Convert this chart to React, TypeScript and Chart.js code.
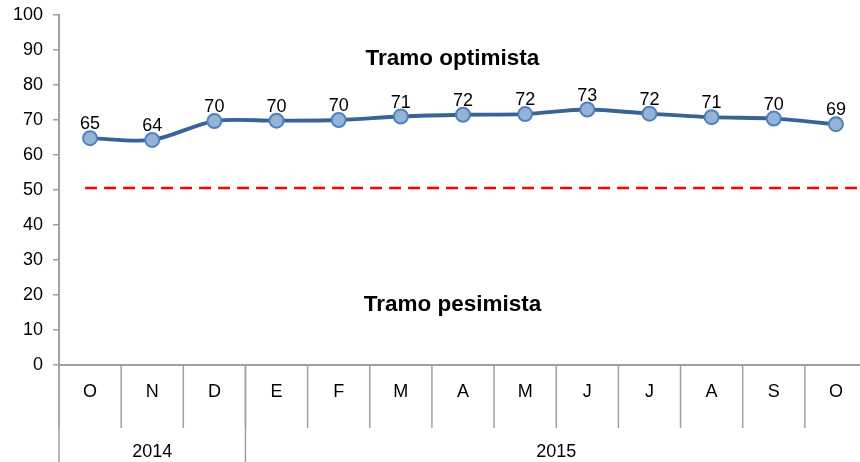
import { useEffect, useRef } from 'react';
import { Chart, registerables } from 'chart.js';

Chart.register(...registerables);

const months = ['O', 'N', 'D', 'E', 'F', 'M', 'A', 'M', 'J', 'J', 'A', 'S', 'O'];
const years = ['2014', '2015'];
const yearSpans = [3, 10];
const values = [64.8, 64.3, 69.7, 69.8, 70.0, 71.0, 71.5, 71.7, 73.0, 71.8, 70.8, 70.4, 68.8];
const threshold = 50.6;
const yMin = 0;
const yMax = 100;
const yStep = 10;
const optimistText = 'Tramo optimista';
const pessimistText = 'Tramo pesimista';

const FONT = '"Liberation Sans", Arial, Helvetica, sans-serif';
const AXIS = '#A0A0A0';
const FS = 18;

export default function App() {
  const ref = useRef<HTMLCanvasElement>(null);

  useEffect(() => {
    if (!ref.current) return;

    const overlay = {
      id: 'overlay',
      beforeDatasetsDraw(chart: any) {
        const { ctx, chartArea, scales } = chart;
        const x = scales.x;
        const y = scales.y;
        const yy = y.getPixelForValue(threshold);
        ctx.save();
        ctx.strokeStyle = '#FF0000';
        ctx.lineWidth = 2.5;
        ctx.setLineDash([12, 7]);
        ctx.beginPath();
        ctx.moveTo(x.getPixelForValue(0) - 5, yy);
        ctx.lineTo(chartArea.right, yy);
        ctx.stroke();
        ctx.restore();
      },
      afterDatasetsDraw(chart: any) {
        const { ctx, chartArea, scales } = chart;
        const x = scales.x;
        const y = scales.y;
        ctx.save();
        // value labels
        const meta = chart.getDatasetMeta(0);
        ctx.fillStyle = '#000';
        ctx.font = `${FS}px ${FONT}`;
        ctx.textAlign = 'center';
        ctx.textBaseline = 'alphabetic';
        meta.data.forEach((pt: any, i: number) => {
          ctx.fillText(String(Math.round(values[i])), pt.x, pt.y - 9);
        });
        // zone annotations
        ctx.font = `bold 22.5px ${FONT}`;
        ctx.textBaseline = 'middle';
        ctx.fillText(optimistText, x.getPixelForValue(5.83), y.getPixelForValue(87.5));
        ctx.fillText(pessimistText, x.getPixelForValue(5.83), y.getPixelForValue(17.1));

        // month separators
        const bottom = chartArea.bottom;
        ctx.strokeStyle = AXIS;
        ctx.lineWidth = 1.5;
        for (let i = 0; i <= months.length; i++) {
          const bx = x.getPixelForValue(i - 0.5);
          ctx.beginPath();
          ctx.moveTo(bx, bottom);
          ctx.lineTo(bx, bottom + 63);
          ctx.stroke();
        }
        // year separators and labels
        let start = 0;
        ctx.font = `${FS}px ${FONT}`;
        ctx.fillStyle = '#000';
        ctx.textBaseline = 'middle';
        const boundaries = [0];
        yearSpans.forEach((s) => boundaries.push(boundaries[boundaries.length - 1] + s));
        boundaries.forEach((b) => {
          const bx = x.getPixelForValue(b - 0.5);
          ctx.beginPath();
          ctx.moveTo(bx, bottom);
          ctx.lineTo(bx, chart.height);
          ctx.stroke();
        });
        yearSpans.forEach((s, k) => {
          const cx = (x.getPixelForValue(start - 0.5) + x.getPixelForValue(start + s - 0.5)) / 2;
          ctx.fillText(years[k], cx, bottom + 87);
          start += s;
        });
        ctx.restore();
      },
    };

    const chart = new Chart(ref.current, {
      type: 'line',
      data: {
        labels: months,
        datasets: [
          {
            data: values,
            borderColor: '#3A6395',
            borderWidth: 3.8,
            tension: 0.3,
            pointRadius: 7,
            pointBackgroundColor: '#95B3D7',
            pointBorderColor: '#4F81BD',
            pointBorderWidth: 2,
            fill: false,
          },
        ],
      },
      options: {
        animation: false,
        responsive: true,
        maintainAspectRatio: false,
        layout: { padding: { top: 15, right: 13, left: 0, bottom: 0 } },
        plugins: {
          legend: { display: false },
          tooltip: { enabled: false },
        },
        scales: {
          x: {
            type: 'category',
            offset: true,
            grid: { display: false },
            border: { color: AXIS, width: 2 },
            ticks: {
              color: '#000',
              font: { family: FONT, size: FS },
              padding: 8,
              autoSkip: false,
              maxRotation: 0,
            },
            afterFit(scale: any) {
              scale.height = 97;
              scale.paddingLeft = 0;
              scale.paddingRight = 0;
            },
          },
          y: {
            min: yMin,
            max: yMax,
            grid: { drawOnChartArea: false, tickLength: 6, color: AXIS, lineWidth: 1.5 },
            border: { color: AXIS, width: 2 },
            ticks: {
              stepSize: yStep,
              color: '#000',
              font: { family: FONT, size: FS },
              padding: 10,
            },
            afterFit(scale: any) {
              scale.width = 59;
              scale.paddingTop = 0;
              scale.paddingBottom = 0;
            },
          },
        },
      },
      plugins: [overlay],
    });

    return () => chart.destroy();
  }, []);

  return (
    <div
      style={{
        position: 'fixed',
        left: 0,
        top: 0,
        width: 860,
        height: 462,
        overflow: 'hidden',
        background: '#fff',
      }}
    >
      <div style={{ position: 'relative', width: 880, height: 462 }}>
        <canvas ref={ref} />
      </div>
    </div>
  );
}
